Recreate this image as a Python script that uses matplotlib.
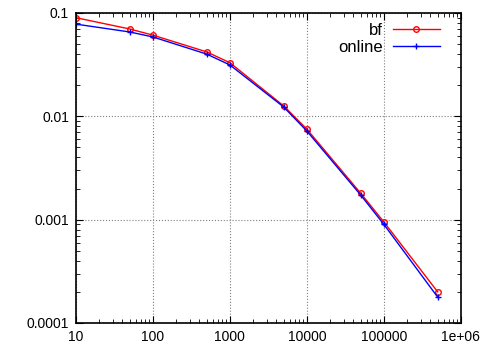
import matplotlib
matplotlib.use("Agg")
import matplotlib.pyplot as plt
import numpy as np

n_values = [10, 50, 100, 500, 1000, 5000, 10000, 50000, 100000, 500000]
bf = [0.090, 0.070, 0.061, 0.042, 0.033, 0.0126, 0.0075, 0.0018, 0.00095, 0.00020]
online = [0.078, 0.0655, 0.0586, 0.040, 0.0314, 0.0123, 0.0072, 0.00173, 0.00090, 0.000178]

xticks = [10, 100, 1000, 10000, 100000, 1000000]
xlabels = ["10", "100", "1000", "10000", "100000", "1e+06"]
yticks = [0.0001, 0.001, 0.01, 0.1]
ylabels = ["0.0001", "0.001", "0.01", "0.1"]

plt.rcParams['font.family'] = ['Liberation Sans', 'DejaVu Sans']

fig = plt.figure(figsize=(4.95, 3.51), dpi=100)
ax = fig.add_axes([0.1535, 0.0798, 0.7775, 0.8832])

ax.plot(n_values, bf, color="red", lw=1, marker="o", ms=4, mfc="none", mew=1, label="bf")
ax.plot(n_values, online, color="blue", lw=1, marker="+", ms=5, mew=1, label="online")

ax.set_xscale("log")
ax.set_yscale("log")
ax.set_xlim(10, 1e6)
ax.set_ylim(1e-4, 0.1)
ax.set_xticks(xticks)
ax.set_xticklabels(xlabels)
ax.set_yticks(yticks)
ax.set_yticklabels(ylabels)

ax.tick_params(which="both", direction="in", top=True, right=True, labelsize=10)
ax.tick_params(which="major", length=5, width=0.8, pad=5)
ax.tick_params(which="minor", length=3, width=0.6)
ax.grid(True, which="major", color="gray", linestyle=":", linewidth=0.8)
for s in ax.spines.values():
    s.set_linewidth(1.2)

leg = ax.legend(loc="upper right", bbox_to_anchor=(0.945, 0.968), frameon=False, fontsize=12,
                markerfirst=False, numpoints=1, handlelength=2.8, borderaxespad=0, borderpad=0,
                labelspacing=0.12, handletextpad=0.6)
for t in leg.get_texts():
    t.set_ha("right")
leg._legend_box.align = "right"

fig.savefig("out.png", dpi=100)
